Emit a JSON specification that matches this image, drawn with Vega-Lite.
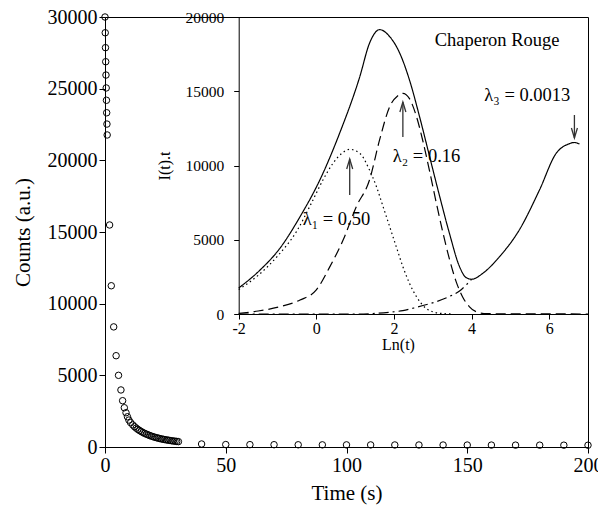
{
  "$schema": "https://vega.github.io/schema/vega-lite/v6.json",
  "width": 483,
  "height": 430,
  "autosize": {"type": "none"},
  "padding": {"left": 105, "top": 17, "right": 10, "bottom": 62},
  "background": "white",
  "config": {
    "view": {"stroke": "black", "strokeWidth": 1},
    "font": "Liberation Serif",
    "axis": {"grid": false, "domainColor": "black", "tickColor": "black", "labelColor": "black", "titleColor": "black", "labelFont": "Liberation Serif", "titleFont": "Liberation Serif", "titleFontWeight": "normal"},
    "text": {"font": "Liberation Serif"}
  },
  "datasets": {
    "decay": [
      {"t": 0, "c": 30000}, {"t": 0.1, "c": 28900}, {"t": 0.2, "c": 27860}, {"t": 0.3, "c": 26880}, {"t": 0.4, "c": 25950},
      {"t": 0.5, "c": 25050}, {"t": 0.6, "c": 24190}, {"t": 0.7, "c": 23320}, {"t": 0.8, "c": 22530}, {"t": 0.9, "c": 21770},
      {"t": 1.9, "c": 15490}, {"t": 2.6, "c": 11250}, {"t": 3.6, "c": 8380}, {"t": 4.6, "c": 6370}, {"t": 5.6, "c": 5000},
      {"t": 6.6, "c": 3980}, {"t": 7.3, "c": 3230}, {"t": 8.0, "c": 2740}, {"t": 8.7, "c": 2390}, {"t": 9.3, "c": 2110},
      {"t": 9.9, "c": 1880}, {"t": 10.6, "c": 1700}, {"t": 11.5, "c": 1540}, {"t": 12.2, "c": 1420}, {"t": 12.9, "c": 1320},
      {"t": 13.6, "c": 1230}, {"t": 14.3, "c": 1150}, {"t": 15.0, "c": 1080}, {"t": 15.7, "c": 1010}, {"t": 16.4, "c": 950},
      {"t": 17.1, "c": 900}, {"t": 17.8, "c": 850}, {"t": 18.5, "c": 800}, {"t": 19.2, "c": 760}, {"t": 19.9, "c": 720},
      {"t": 20.6, "c": 680}, {"t": 21.3, "c": 650}, {"t": 22.0, "c": 620}, {"t": 22.7, "c": 590}, {"t": 23.4, "c": 560},
      {"t": 24.1, "c": 540}, {"t": 24.8, "c": 515}, {"t": 25.5, "c": 495}, {"t": 26.2, "c": 475}, {"t": 26.9, "c": 455},
      {"t": 27.6, "c": 435}, {"t": 28.3, "c": 420}, {"t": 29.0, "c": 405}, {"t": 29.7, "c": 390}, {"t": 30.4, "c": 375},
      {"t": 40, "c": 210}, {"t": 50, "c": 170}, {"t": 60, "c": 165}, {"t": 70, "c": 160}, {"t": 80, "c": 155},
      {"t": 90, "c": 150}, {"t": 100, "c": 148}, {"t": 110, "c": 145}, {"t": 120, "c": 142}, {"t": 130, "c": 140},
      {"t": 140, "c": 138}, {"t": 150, "c": 135}, {"t": 160, "c": 133}, {"t": 170, "c": 130}, {"t": 180, "c": 128},
      {"t": 190, "c": 126}, {"t": 200, "c": 124}
    ],
    "curves": [
      {"s": "total", "x": -2, "y": 1750}, {"s": "total", "x": -1.45, "y": 2960}, {"s": "total", "x": -0.94, "y": 4420},
      {"s": "total", "x": -0.42, "y": 6550}, {"s": "total", "x": 0.09, "y": 9020}, {"s": "total", "x": 0.6, "y": 12170},
      {"s": "total", "x": 1.12, "y": 15980}, {"s": "total", "x": 1.37, "y": 18230}, {"s": "total", "x": 1.63, "y": 19150},
      {"s": "total", "x": 1.89, "y": 18680}, {"s": "total", "x": 2.15, "y": 17560}, {"s": "total", "x": 2.4, "y": 15760},
      {"s": "total", "x": 2.66, "y": 13290}, {"s": "total", "x": 2.92, "y": 10590}, {"s": "total", "x": 3.18, "y": 7900},
      {"s": "total", "x": 3.43, "y": 5430}, {"s": "total", "x": 3.69, "y": 3190}, {"s": "total", "x": 3.86, "y": 2450},
      {"s": "total", "x": 4.0, "y": 2340}, {"s": "total", "x": 4.29, "y": 2740}, {"s": "total", "x": 4.72, "y": 3860},
      {"s": "total", "x": 5.23, "y": 5660}, {"s": "total", "x": 5.75, "y": 8350}, {"s": "total", "x": 6.18, "y": 10820},
      {"s": "total", "x": 6.5, "y": 11450}, {"s": "total", "x": 6.65, "y": 11550}, {"s": "total", "x": 6.78, "y": 11450},
      {"s": "l1", "x": -2, "y": 1650}, {"s": "l1", "x": -1.5, "y": 2600}, {"s": "l1", "x": -1, "y": 3900},
      {"s": "l1", "x": -0.5, "y": 5600}, {"s": "l1", "x": -0.12, "y": 7500}, {"s": "l1", "x": 0.17, "y": 9020},
      {"s": "l1", "x": 0.43, "y": 10150}, {"s": "l1", "x": 0.65, "y": 10800}, {"s": "l1", "x": 0.86, "y": 11090},
      {"s": "l1", "x": 1.12, "y": 10820}, {"s": "l1", "x": 1.37, "y": 9700}, {"s": "l1", "x": 1.55, "y": 8570},
      {"s": "l1", "x": 1.72, "y": 7230}, {"s": "l1", "x": 1.89, "y": 5880}, {"s": "l1", "x": 2.06, "y": 4530},
      {"s": "l1", "x": 2.23, "y": 3190}, {"s": "l1", "x": 2.4, "y": 2070}, {"s": "l1", "x": 2.58, "y": 1170},
      {"s": "l1", "x": 2.83, "y": 380}, {"s": "l1", "x": 3.18, "y": 50}, {"s": "l1", "x": 3.5, "y": 0},
      {"s": "l2", "x": -2, "y": 40}, {"s": "l2", "x": -1.5, "y": 200}, {"s": "l2", "x": -0.94, "y": 490},
      {"s": "l2", "x": -0.42, "y": 940}, {"s": "l2", "x": 0, "y": 1620}, {"s": "l2", "x": 0.35, "y": 3190},
      {"s": "l2", "x": 0.69, "y": 4980}, {"s": "l2", "x": 1.03, "y": 7230}, {"s": "l2", "x": 1.37, "y": 9020},
      {"s": "l2", "x": 1.63, "y": 11720}, {"s": "l2", "x": 1.89, "y": 13960}, {"s": "l2", "x": 2.1, "y": 14700},
      {"s": "l2", "x": 2.23, "y": 14860}, {"s": "l2", "x": 2.4, "y": 14500}, {"s": "l2", "x": 2.58, "y": 13300},
      {"s": "l2", "x": 2.75, "y": 11600}, {"s": "l2", "x": 2.92, "y": 9600}, {"s": "l2", "x": 3.09, "y": 7500},
      {"s": "l2", "x": 3.26, "y": 5500}, {"s": "l2", "x": 3.43, "y": 3700}, {"s": "l2", "x": 3.6, "y": 2200},
      {"s": "l2", "x": 3.77, "y": 1150}, {"s": "l2", "x": 3.94, "y": 500}, {"s": "l2", "x": 4.12, "y": 150},
      {"s": "l2", "x": 4.4, "y": 20}, {"s": "l2", "x": 7, "y": 0},
      {"s": "l3", "x": -2, "y": 0}, {"s": "l3", "x": 1.0, "y": 0}, {"s": "l3", "x": 1.46, "y": 30},
      {"s": "l3", "x": 1.9, "y": 120}, {"s": "l3", "x": 2.23, "y": 230}, {"s": "l3", "x": 2.58, "y": 450},
      {"s": "l3", "x": 2.9, "y": 680}, {"s": "l3", "x": 3.09, "y": 830}, {"s": "l3", "x": 3.4, "y": 1150},
      {"s": "l3", "x": 3.69, "y": 1550}, {"s": "l3", "x": 3.86, "y": 1950}, {"s": "l3", "x": 4.0, "y": 2340}
    ],
    "labels": [
      {"x": 3.05, "y": 18450, "text": "Chaperon Rouge"},
      {"x": 4.33, "y": 14714, "text": "λ₃ = 0.0013"},
      {"x": 1.97, "y": 10640, "text": "λ₂ = 0.16"},
      {"x": -0.35, "y": 6400, "text": "λ₁ = 0.50"}
    ],
    "shafts": [
      {"x": 0.86, "y": 8013, "y2": 10438},
      {"x": 2.23, "y": 11919, "y2": 14276},
      {"x": 6.65, "y": 13401, "y2": 11852}
    ],
    "heads": [
      {"x": 0.86, "y": 10438, "dir": "up"},
      {"x": 2.23, "y": 14276, "dir": "up"},
      {"x": 6.65, "y": 11852, "dir": "down"}
    ]
  },
  "layer": [
    {
      "data": {"name": "decay"},
      "mark": {"type": "point", "shape": "circle", "filled": false, "stroke": "black", "strokeWidth": 1, "size": 42, "opacity": 1},
      "encoding": {
        "x": {"field": "t", "type": "quantitative", "scale": {"domain": [0, 200]},
              "axis": {"values": [0, 50, 100, 150, 200], "format": "d", "title": "Time (s)", "labelFontSize": 20, "titleFontSize": 21, "tickSize": 6, "labelPadding": 2, "titlePadding": 7, "labelFlush": false}},
        "y": {"field": "c", "type": "quantitative", "scale": {"domain": [0, 30000]},
              "axis": {"values": [0, 5000, 10000, 15000, 20000, 25000, 30000], "format": "d", "title": "Counts (a.u.)", "labelFontSize": 20, "titleFontSize": 21, "tickSize": 6, "labelPadding": 2, "titlePadding": 14}}
      }
    },
    {
      "encoding": {
        "x": {"field": "x", "type": "quantitative", "scale": {"domain": [-2, 7], "range": [133.7, 483], "nice": false},
              "axis": {"orient": "bottom", "offset": -133, "values": [-2, 0, 2, 4, 6], "format": "d", "labelExpr": "replace(datum.label, '−', '-')", "title": "Ln(t)", "titleX": 293, "titleY": 22, "labelFontSize": 16, "titleFontSize": 16, "tickSize": 5, "labelPadding": 1, "titlePadding": 0, "labelFlush": false}},
        "y": {"field": "y", "type": "quantitative", "scale": {"domain": [0, 20000], "range": [297, 0], "nice": false},
              "axis": {"orient": "left", "offset": -133.7, "values": [0, 5000, 10000, 15000, 20000], "format": "d", "title": "I(t).t", "labelFontSize": 15.5, "titleFontSize": 16, "tickSize": 5, "labelPadding": 10, "titlePadding": 12}}
      },
      "layer": [
        {
          "data": {"name": "curves"},
          "mark": {"type": "line", "interpolate": "monotone", "stroke": "black", "strokeWidth": 1.2},
          "encoding": {
            "detail": {"field": "s"},
            "strokeDash": {"field": "s", "type": "nominal", "legend": null,
                           "scale": {"domain": ["total", "l1", "l2", "l3"], "range": [[1, 0], [1.5, 3], [10, 5], [10, 4, 2, 4]]}}
          }
        },
        {
          "data": {"name": "labels"},
          "mark": {"type": "text", "align": "left", "baseline": "middle", "fontSize": 18.5, "color": "black"},
          "encoding": {"text": {"field": "text"}}
        },
        {
          "data": {"name": "shafts"},
          "mark": {"type": "rule", "color": "#333", "strokeWidth": 1.3},
          "encoding": {"y2": {"field": "y2"}}
        },
        {
          "data": {"name": "heads"},
          "mark": {"type": "point", "filled": false, "stroke": "#333", "strokeWidth": 1.3, "size": 100, "opacity": 1},
          "encoding": {
            "shape": {"field": "dir", "type": "nominal", "legend": null,
                      "scale": {"domain": ["up", "down"], "range": ["M-0.6,2L0,0L0.6,2", "M-0.6,-2L0,0L0.6,-2"]}}
          }
        }
      ]
    }
  ],
  "resolve": {"scale": {"x": "independent", "y": "independent"}, "axis": {"x": "independent", "y": "independent"}}
}
